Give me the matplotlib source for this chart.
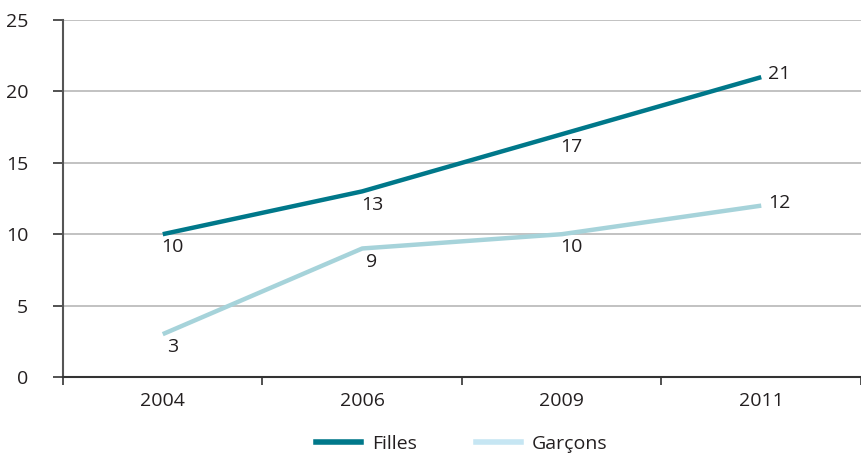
import matplotlib
matplotlib.use("Agg")
import matplotlib.pyplot as plt
from matplotlib.lines import Line2D

plt.rcParams['font.family'] = ['Open Sans', 'DejaVu Sans']

years = ["2004", "2006", "2009", "2011"]
filles = [10, 13, 17, 21]
garcons = [3, 9, 10, 12]
yticks = [0, 5, 10, 15, 20, 25]

c_f = "#00788a"
c_g = "#a6d3da"
c_g_leg = "#c6e6f3"
txt = "#231f20"

fig = plt.figure(figsize=(8.62, 4.57), dpi=100)
ax = fig.add_axes([63/862, (457-377)/457, (861-63)/862, (377-20)/457])

x = list(range(len(years)))
ax.plot(x, filles, color=c_f, lw=3.2, solid_capstyle='butt', zorder=3)
ax.plot(x, garcons, color=c_g, lw=3.2, solid_capstyle='butt', zorder=3)

fs = 14
def label(series):
    for i, v in enumerate(series):
        if i == len(series) - 1:
            ax.annotate(str(v), (i, v), xytext=(5, 2), textcoords='offset points',
                        ha='left', va='center', fontsize=fs, color=txt)
        else:
            ax.annotate(str(v), (i, v), xytext=(7, -3), textcoords='offset points',
                        ha='center', va='top', fontsize=fs, color=txt)
label(filles)
label(garcons)

ax.set_xlim(-0.5, len(years) - 0.5)
ax.set_ylim(0, 25)
ax.set_yticks(yticks)
ax.set_yticklabels([str(t) for t in yticks], fontsize=fs, color=txt)
ax.set_xticks(x)
ax.set_xticklabels(years, fontsize=fs, color=txt)
ax.tick_params(axis='x', which='major', length=0, pad=11)
ax.set_xticks([i - 0.5 for i in range(len(years) + 1)], minor=True)
ax.tick_params(axis='x', which='minor', length=6, width=1.2, color="#333333", direction='out')
ax.tick_params(axis='y', length=7, width=1.2, color="#333333", pad=18)

ax.grid(axis='y', color="#b8b8b8", lw=1.2, zorder=0)
ax.set_axisbelow(True)
for s in ['top', 'right']:
    ax.spines[s].set_visible(False)
ax.spines['left'].set_color("#555555")
ax.spines['left'].set_linewidth(1.5)
ax.spines['bottom'].set_color("#333333")
ax.spines['bottom'].set_linewidth(1.5)

handles = [Line2D([0], [0], color=c_f, lw=4), Line2D([0], [0], color=c_g_leg, lw=4)]
fig.legend(handles, ["Filles", "Garçons"], loc='center', bbox_to_anchor=(462/862, 1 - 444/457),
           ncol=2, frameon=False, fontsize=fs, handlelength=2.3, columnspacing=3.0, handletextpad=0.6,
           labelcolor=txt)

fig.savefig("out.png", dpi=100)
